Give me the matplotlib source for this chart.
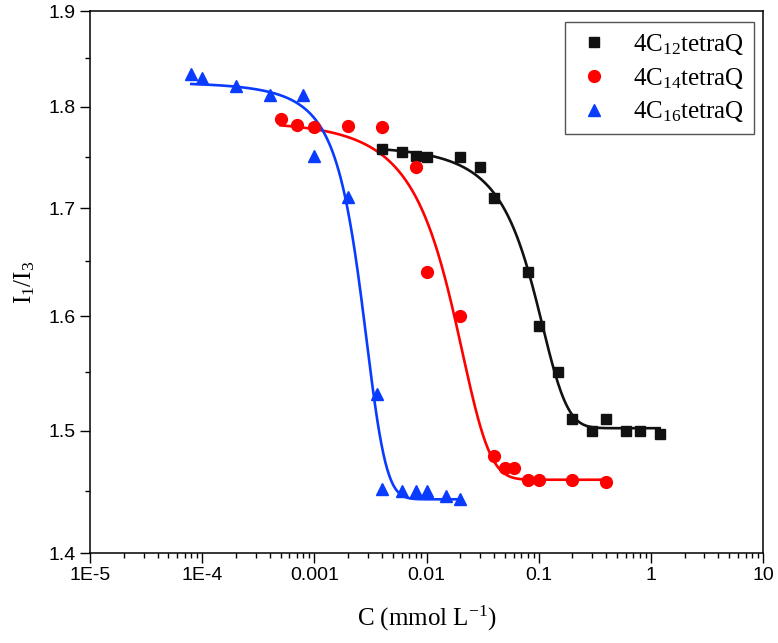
import numpy as np
import matplotlib
matplotlib.use("Agg")
import matplotlib.pyplot as plt
from matplotlib.ticker import FixedLocator, FuncFormatter, NullFormatter, LogLocator

plt.rcParams['mathtext.fontset'] = 'custom'
plt.rcParams['mathtext.rm'] = 'Liberation Serif'
plt.rcParams['mathtext.it'] = 'Liberation Serif:italic'

# ---- data ----
c12_x = [0.004, 0.006, 0.008, 0.01, 0.02, 0.03, 0.04, 0.08, 0.1, 0.15, 0.2, 0.3, 0.4, 0.6, 0.8, 1.2]
c12_y = [1.758, 1.755, 1.751, 1.750, 1.750, 1.740, 1.710, 1.640, 1.591, 1.550, 1.510, 1.500, 1.510, 1.500, 1.500, 1.497]

c14_x = [0.0005, 0.0007, 0.001, 0.002, 0.004, 0.008, 0.01, 0.02, 0.04, 0.05, 0.06, 0.08, 0.1, 0.2, 0.4]
c14_y = [1.788, 1.782, 1.780, 1.781, 1.780, 1.740, 1.640, 1.600, 1.479, 1.469, 1.469, 1.459, 1.459, 1.459, 1.457]

c16_x = [0.00008, 0.0001, 0.0002, 0.0004, 0.0008, 0.001, 0.002, 0.0036, 0.004, 0.006, 0.008, 0.01, 0.015, 0.02]
c16_y = [1.834, 1.830, 1.821, 1.812, 1.812, 1.751, 1.711, 1.531, 1.451, 1.450, 1.450, 1.450, 1.446, 1.443]

# Boltzmann fit parameters (A1, A2, x0, dx) and curve ranges
fit12 = (1.795, 1.502, 0.077, 0.038)
fit14 = (1.860, 1.459, 0.0125, 0.0085)
fit16 = (1.840, 1.443, 0.00243, 0.00075)
range12 = (0.004, 1.2)
range14 = (0.0005, 0.4)
range16 = (0.00008, 0.02)

labels = [r'4C$_{\mathrm{12}}$tetraQ', r'4C$_{\mathrm{14}}$tetraQ', r'4C$_{\mathrm{16}}$tetraQ']
colors = ['#111111', '#ff0000', '#0a3cff']
markers = ['s', 'o', '^']
msizes = [7, 8.5, 9]

x_ticks = [1e-5, 1e-4, 1e-3, 1e-2, 1e-1, 1, 10]
x_ticklabels = ['1E-5', '1E-4', '0.001', '0.01', '0.1', '1', '10']
y_ticks = [1.4, 1.5, 1.6, 1.7, 1.8, 1.9]
y_minor = [1.45, 1.55, 1.65, 1.75, 1.85]


def boltz(x, p):
    a1, a2, x0, dx = p
    return a2 + (a1 - a2) / (1 + np.exp((x - x0) / dx))


fig = plt.figure(figsize=(7.78, 6.43), dpi=100)
ax = fig.add_axes([90/778, 1-553/643, 673/778, 542/643])
ax.set_xscale('log')
ax.set_yscale('log')

series = [(c12_x, c12_y, fit12, range12), (c14_x, c14_y, fit14, range14), (c16_x, c16_y, fit16, range16)]
for (xs, ys, p, r), lab, col, mk, ms in zip(series, labels, colors, markers, msizes):
    xx = np.logspace(np.log10(r[0]), np.log10(r[1]), 400)
    ax.plot(xx, boltz(xx, p), color=col, lw=1.9, zorder=2)
    ax.plot(xs, ys, linestyle='none', marker=mk, ms=ms, color=col, mec=col, label=lab, zorder=3)

ax.set_xlim(1e-5, 10)
ax.set_ylim(1.4, 1.9)

ax.xaxis.set_major_locator(FixedLocator(x_ticks))
ax.xaxis.set_major_formatter(FuncFormatter(lambda v, pos: x_ticklabels[x_ticks.index(min(x_ticks, key=lambda t: abs(np.log10(t) - np.log10(v))))]))
ax.xaxis.set_minor_locator(LogLocator(base=10, subs=np.arange(2, 10), numticks=20))
ax.xaxis.set_minor_formatter(NullFormatter())
ax.yaxis.set_major_locator(FixedLocator(y_ticks))
ax.yaxis.set_major_formatter(FuncFormatter(lambda v, pos: f'{v:.1f}'))
ax.yaxis.set_minor_locator(FixedLocator(y_minor))
ax.yaxis.set_minor_formatter(NullFormatter())

ax.tick_params(which='major', direction='out', length=7.2, width=1.0, labelsize=14, pad=3)
ax.tick_params(which='minor', direction='out', length=3.6, width=1.0)
for lab in ax.get_xticklabels() + ax.get_yticklabels():
    lab.set_fontfamily('Liberation Sans')
for s in ax.spines.values():
    s.set_linewidth(1.1)

ax.set_xlabel(r'C (mmol L$^{\mathrm{-1}}$)', fontsize=18, family='Liberation Serif', labelpad=14)
ax.set_ylabel(r'I$_{\mathrm{1}}$/I$_{\mathrm{3}}$', fontsize=18, family='Liberation Serif', labelpad=8)

leg = ax.legend(loc='upper right', bbox_to_anchor=(0.987, 0.98), borderaxespad=0,
                prop={'family': 'Liberation Serif', 'size': 18}, fancybox=False,
                edgecolor='#555555', framealpha=1, handletextpad=0.8, labelspacing=0.35,
                borderpad=0.4, handlelength=1.5)
leg.get_frame().set_linewidth(1.0)

fig.savefig('out.png', dpi=100)
